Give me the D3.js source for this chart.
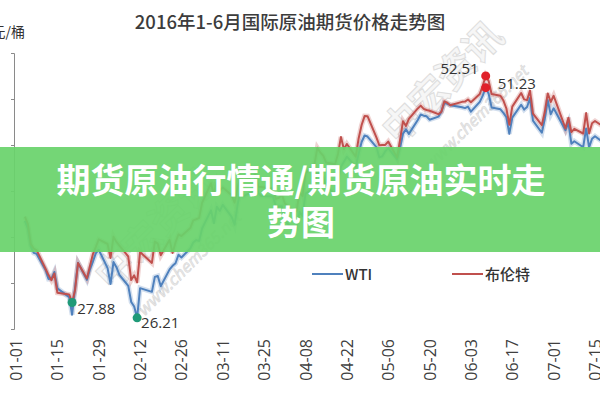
<!DOCTYPE html>
<html><head><meta charset="utf-8">
<script src="https://cdn.jsdelivr.net/npm/d3@7/dist/d3.min.js"></script>
<style>
html,body{margin:0;padding:0;background:#fff;}
svg{display:block;font-family:"Noto Sans CJK SC","Noto Sans",sans-serif;}
</style></head>
<body><svg id="c" width="600" height="400"></svg>
<script>
const title = "2016年1-6月国际原油期货价格走势图";
const yLabel = "元/桶";
const seriesNames = ["WTI", "布伦特"];
const bannerLines = ["期货原油行情通/期货原油实时走", "势图"];
const xTickLabels = ["01-01","01-15","01-29","02-12","02-26","03-11","03-25","04-08","04-22","05-06","05-20","06-03","06-17","07-01","07-15"];
const yTicks = [25,30,35,40,45,50,55];
const dates = [
"01-04","01-05","01-06","01-07","01-08","01-11","01-12","01-13","01-14","01-15","01-19","01-20","01-21","01-22","01-25","01-26","01-27","01-28","01-29",
"02-01","02-02","02-03","02-04","02-05","02-08","02-09","02-10","02-11","02-12","02-16","02-17","02-18","02-19","02-22","02-23","02-24","02-25","02-26","02-29",
"03-01","03-02","03-03","03-04","03-07","03-08","03-09","03-10","03-11","03-14","03-15","03-16","03-17","03-18","03-21","03-22","03-23","03-24","03-28","03-29","03-30","03-31",
"04-01","04-04","04-05","04-06","04-07","04-08","04-11","04-12","04-13","04-14","04-15","04-18","04-19","04-20","04-21","04-22","04-25","04-26","04-27","04-28","04-29",
"05-02","05-03","05-04","05-05","05-06","05-09","05-10","05-11","05-12","05-13","05-16","05-17","05-18","05-19","05-20","05-23","05-24","05-25","05-26","05-27","05-31",
"06-01","06-02","06-03","06-06","06-07","06-08","06-09","06-10","06-13","06-14","06-15","06-16","06-17","06-20","06-21","06-22","06-23","06-24","06-27","06-28","06-29","06-30",
"07-01","07-05","07-06","07-07","07-08","07-11","07-12","07-13","07-14","07-15","07-18"];
const wtiValues = [
36.76,35.97,33.97,33.27,33.16,31.41,30.44,30.48,31.20,29.42,28.46,26.55,29.53,32.19,30.34,31.45,32.30,33.22,33.62,
31.62,29.88,32.28,31.72,30.89,29.69,27.94,27.45,26.21,29.44,29.04,30.66,30.77,29.64,31.48,31.87,32.15,33.07,32.78,33.75,
34.40,34.66,34.57,35.92,37.90,36.50,38.29,37.84,38.50,37.18,36.34,38.46,40.20,39.44,39.91,41.45,39.79,39.46,39.39,38.28,38.32,38.34,
36.79,35.70,35.89,37.75,37.26,39.72,40.36,42.17,41.76,41.50,40.36,39.78,41.08,42.63,43.18,43.73,42.64,44.04,45.33,46.03,45.92,
44.78,43.65,43.78,44.32,44.66,43.44,44.66,46.23,46.70,46.21,47.72,48.31,48.19,48.12,47.75,48.08,48.62,49.56,49.48,49.33,49.10,
49.01,49.17,48.62,49.69,50.36,51.23,50.56,49.07,48.88,48.49,48.01,46.21,47.98,49.37,48.85,49.13,50.11,47.64,46.33,47.85,49.88,48.33,
48.99,46.60,47.43,45.14,45.41,44.76,46.80,44.75,45.68,45.95,45.24];
const brentValues = [
37.22,36.42,34.23,33.75,33.55,31.55,30.86,30.31,31.03,28.94,28.76,27.88,29.25,32.18,30.50,31.80,33.10,33.89,34.74,
34.24,32.72,35.04,34.46,34.06,32.88,30.32,30.84,30.06,33.36,32.18,34.50,34.28,33.01,34.69,33.27,34.41,35.29,35.10,35.97,
36.81,36.93,37.07,38.72,40.84,39.65,41.07,40.05,40.39,39.53,38.74,40.33,41.54,41.20,41.54,41.79,40.47,40.44,40.27,39.14,39.26,39.60,
38.67,37.69,37.87,39.84,39.43,41.94,42.83,44.69,44.18,43.84,43.10,42.91,44.03,45.87,44.53,45.11,43.73,45.74,47.18,48.14,48.13,
45.83,44.97,45.01,45.01,45.37,43.63,45.52,47.59,47.08,47.83,48.97,49.28,48.93,48.81,48.72,48.35,48.61,49.74,49.59,49.32,49.69,
49.72,49.95,49.64,50.55,51.44,52.51,51.95,50.54,50.35,49.83,48.97,47.19,49.17,50.65,49.96,49.88,50.91,48.41,47.16,48.58,50.61,49.68,
50.35,46.80,47.96,46.40,46.76,46.25,48.47,46.26,47.37,47.61,46.96];
// annotated points
const annDates = ["01-20","02-11","06-08","06-08"];
const annValues = [27.88,26.21,52.51,51.23];

const svg = d3.select("#c");
const parse = s => new Date(2016, +s.slice(0,2)-1, +s.slice(3,5));
const x = d3.scaleTime().domain([parse("01-01"), parse("07-15")]).range([16, 595]);
const y = d3.scaleLinear().domain([25,55]).range([329,53]);
const colors = ["#4f81bd","#c0504d"];
const dotColors = ["#1f9a78","#1f9a78","#e0202a","#e0202a"];

// title
svg.append("text").attr("x",290).attr("y",29).attr("text-anchor","middle")
  .attr("font-size",18.5).attr("font-weight",500).attr("fill","#3c3c3c").text(title);
svg.append("text").attr("x",25).attr("y",37).attr("text-anchor","end")
  .attr("font-size",14).attr("fill","#333").text(yLabel);

// y axis
const ya = svg.append("g").attr("transform","translate(14,0)")
  .call(d3.axisLeft(y).tickValues(yTicks).tickSize(3).tickFormat(() => ""));
ya.select(".domain").attr("stroke","#8a8a8a");
ya.selectAll(".tick line").attr("stroke","#8a8a8a");

// x labels
svg.append("g").selectAll("text").data(xTickLabels).join("text")
  .attr("transform", d => `translate(${x(parse(d))+6},339) rotate(-90)`)
  .attr("text-anchor","end").attr("font-size",16).attr("fill","#404040")
  .attr("font-family","'Open Sans','DejaVu Sans',sans-serif").text(d => d);

// watermarks
function wm(cx, cy){
  svg.append("text").attr("transform",`translate(${cx},${cy}) rotate(-45)`)
    .attr("text-anchor","middle").attr("font-size",38).attr("font-weight",700)
    .attr("fill","#f4f4f4").attr("stroke","#d6d6d6").attr("stroke-width",1).attr("opacity",0.8).text("中宏资讯");
  svg.append("text").attr("transform",`translate(${cx+28},${cy+30}) rotate(-45)`)
    .attr("text-anchor","middle").attr("font-size",16).attr("font-style","italic")
    .attr("fill","#e6e6e6").attr("stroke","#cfcfcf").attr("stroke-width",0.6).attr("opacity",0.8).text("www.chem365.net");
}
wm(165,238); wm(452,92);

// lines
const series = [wtiValues, brentValues];
const line = d3.line().x((d,i) => x(parse(dates[i]))).y(d => y(d));
series.forEach((vals,k) => {
  svg.append("path").datum(vals).attr("d",line).attr("fill","none")
    .attr("stroke",colors[k]).attr("stroke-opacity",0.25).attr("stroke-width",5);
});
series.forEach((vals,k) => {
  svg.append("path").datum(vals).attr("d",line).attr("fill","none")
    .attr("stroke",colors[k]).attr("stroke-width",2).attr("stroke-linejoin","round");
});

// annotations
annValues.forEach((v,i) => {
  svg.append("circle").attr("cx",x(parse(annDates[i]))).attr("cy",y(v)).attr("r",4.5).attr("fill",dotColors[i]);
});
const annLabelDx = [5,4,-7,12];
const annLabelDy = [11,10,-2,1];
const annAnchor = ["start","start","end","start"];
annValues.forEach((v,i) => {
  svg.append("text").attr("x",x(parse(annDates[i]))+annLabelDx[i]).attr("y",y(v)+annLabelDy[i])
    .attr("text-anchor",annAnchor[i]).attr("font-size",15).attr("fill","#333")
    .attr("font-family","'Open Sans','DejaVu Sans',sans-serif").text(v.toFixed(2));
});

// legend
const legX = [312, 452];
seriesNames.forEach((n,k) => {
  svg.append("line").attr("x1",legX[k]).attr("x2",legX[k]+31).attr("y1",274).attr("y2",274)
    .attr("stroke",colors[k]).attr("stroke-width",2);
  svg.append("text").attr("x",legX[k]+33).attr("y",280).attr("font-size",15).attr("font-weight",500)
    .attr("fill","#333").text(n);
});

// banner
svg.append("rect").attr("x",0).attr("y",147).attr("width",600).attr("height",105)
  .attr("fill","#69d36c").attr("opacity",0.93);
const bt = svg.append("text").attr("text-anchor","middle")
  .attr("font-size",34).attr("font-weight",700).attr("fill","#fff");
bannerLines.forEach((t,i) => {
  bt.append("tspan").attr("x",301).attr("y",193+i*42).text(t);
});
</script></body></html>
